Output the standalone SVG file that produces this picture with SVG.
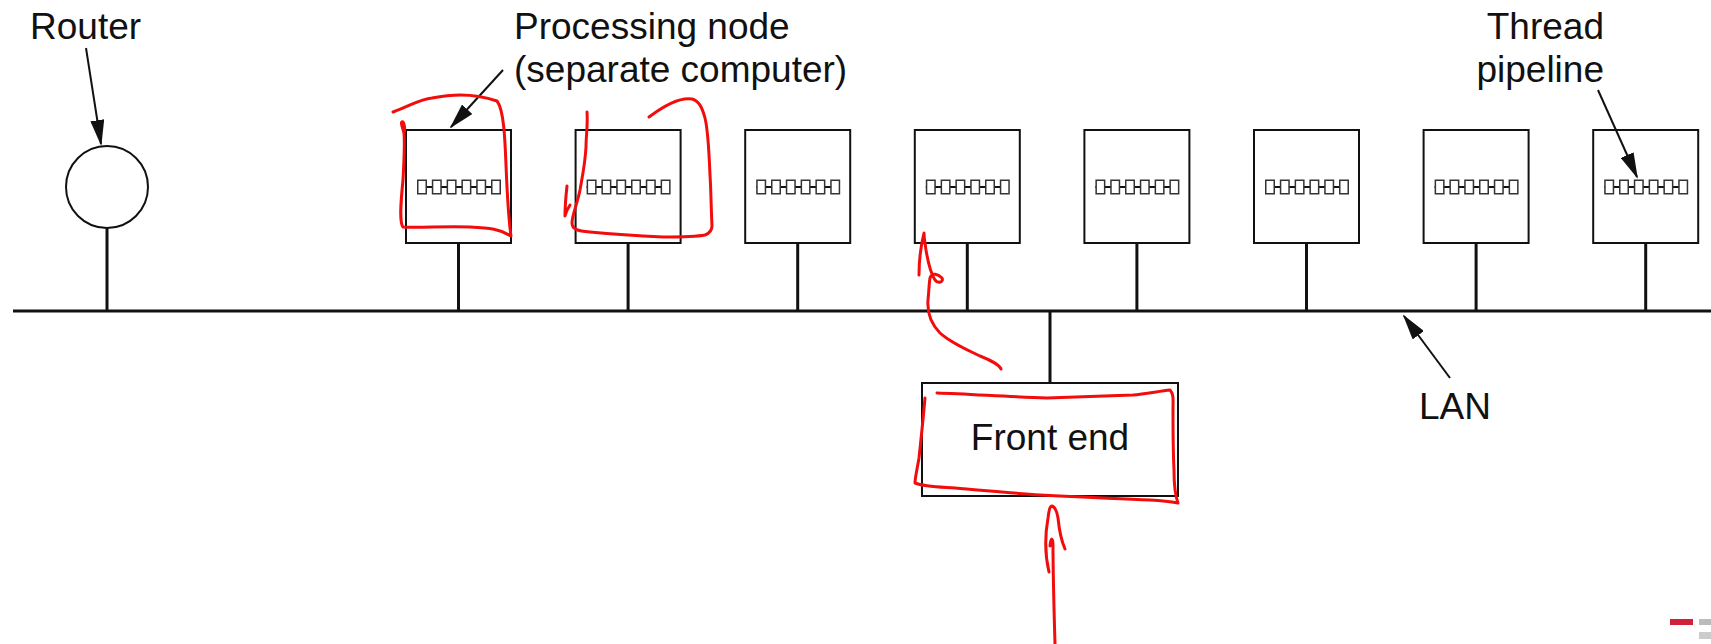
<svg xmlns="http://www.w3.org/2000/svg" xmlns:xlink="http://www.w3.org/1999/xlink" width="1711" height="644" viewBox="0 0 1711 644">
  <style>
    .lbl { font-family: "Liberation Sans", Arial, Helvetica, sans-serif; font-size: 37px; fill: #111; }
    .box { fill: #fff; stroke: #111; stroke-width: 2; }
    .wire { stroke: #111; stroke-width: 3; fill: none; }
    .ptr { stroke: #111; stroke-width: 2; fill: none; marker-end: url(#head); }
    .stage { fill: #fff; stroke: #333; stroke-width: 1.5; }
    .ink { fill: none; stroke: #f20c0c; stroke-width: 3; stroke-linecap: round; stroke-linejoin: round; }
  </style>
  <defs>
    <marker id="head" viewBox="0 0 26 14" refX="24" refY="7" markerWidth="26" markerHeight="14" markerUnits="userSpaceOnUse" orient="auto">
      <path d="M0,0 L26,7 L0,14 z" fill="#111"/>
    </marker>
    <!-- six-stage thread pipeline -->
    <g id="pipe">
      <line x1="0" y1="7.5" x2="83" y2="7.5" stroke="#111" stroke-width="2"/>
      <rect class="stage" x="0.75" y="0.75" width="8.5" height="13.5"/>
      <rect class="stage" x="15.55" y="0.75" width="8.5" height="13.5"/>
      <rect class="stage" x="30.35" y="0.75" width="8.5" height="13.5"/>
      <rect class="stage" x="45.15" y="0.75" width="8.5" height="13.5"/>
      <rect class="stage" x="59.95" y="0.75" width="8.5" height="13.5"/>
      <rect class="stage" x="74.75" y="0.75" width="8.5" height="13.5"/>
    </g>
  </defs>

  <rect width="1711" height="644" fill="#fff"/>

  <g id="router">
    <circle cx="107" cy="187" r="41" fill="#fff" stroke="#111" stroke-width="2"/>
  </g>

  <g id="node1"><rect class="box" x="406" y="130" width="105" height="113"/><use xlink:href="#pipe" x="417" y="179.5"/></g>
  <g id="node2"><rect class="box" x="575.6" y="130" width="105" height="113"/><use xlink:href="#pipe" x="586.6" y="179.5"/></g>
  <g id="node3"><rect class="box" x="745.2" y="130" width="105" height="113"/><use xlink:href="#pipe" x="756.2" y="179.5"/></g>
  <g id="node4"><rect class="box" x="914.8" y="130" width="105" height="113"/><use xlink:href="#pipe" x="925.8" y="179.5"/></g>
  <g id="node5"><rect class="box" x="1084.4" y="130" width="105" height="113"/><use xlink:href="#pipe" x="1095.4" y="179.5"/></g>
  <g id="node6"><rect class="box" x="1254" y="130" width="105" height="113"/><use xlink:href="#pipe" x="1265" y="179.5"/></g>
  <g id="node7"><rect class="box" x="1423.6" y="130" width="105" height="113"/><use xlink:href="#pipe" x="1434.6" y="179.5"/></g>
  <g id="node8"><rect class="box" x="1593.2" y="130" width="105" height="113"/><use xlink:href="#pipe" x="1604.2" y="179.5"/></g>

  <g id="front-end">
    <rect class="box" x="922" y="383" width="256" height="113"/>
    <text class="lbl" x="1050" y="450" text-anchor="middle">Front end</text>
  </g>

  <!-- LAN backbone, drop lines and callout arrows -->
  <g id="connectors">
    <line class="wire" x1="13" y1="311" x2="1711" y2="311"/>
    <line class="wire" x1="107" y1="228" x2="107" y2="311"/>
    <line class="wire" x1="458.5" y1="244" x2="458.5" y2="311"/>
    <line class="wire" x1="628.1" y1="244" x2="628.1" y2="311"/>
    <line class="wire" x1="797.7" y1="244" x2="797.7" y2="311"/>
    <line class="wire" x1="967.3" y1="244" x2="967.3" y2="311"/>
    <line class="wire" x1="1136.9" y1="244" x2="1136.9" y2="311"/>
    <line class="wire" x1="1306.5" y1="244" x2="1306.5" y2="311"/>
    <line class="wire" x1="1476.1" y1="244" x2="1476.1" y2="311"/>
    <line class="wire" x1="1645.7" y1="244" x2="1645.7" y2="311"/>
    <line class="wire" x1="1050" y1="311" x2="1050" y2="382"/>
    <line class="ptr" x1="86" y1="48" x2="101" y2="144"/>
    <line class="ptr" x1="503" y1="70" x2="451" y2="127"/>
    <line class="ptr" x1="1598" y1="90" x2="1637" y2="177"/>
    <line class="ptr" x1="1450" y1="378" x2="1404" y2="316"/>
  </g>

  <!-- labels -->
  <g id="labels">
    <text class="lbl" x="30" y="39">Router</text>
    <text class="lbl" x="514" y="39">Processing node</text>
    <text class="lbl" x="514" y="82">(separate computer)</text>
    <text class="lbl" x="1604" y="39" text-anchor="end">Thread</text>
    <text class="lbl" x="1604" y="82" text-anchor="end">pipeline</text>
    <text class="lbl" x="1419" y="419">LAN</text>
  </g>

  <!-- freehand pen marks -->
  <g id="pen">
    <path class="ink" d="M393,112 C410,106 420,99 432,98 C448,95 470,92 497,101 C504,110 505,140 506,165 C507,190 508,215 511,236 C500,229 490,228 470,227 C445,226 420,228 403,227 C399,222 401,200 403,180 C404,160 405,145 404,133 C402,126 400,121 403,122 C405,124 405,130 404,134"/>
    <path class="ink" d="M587,112 C588,125 586,135 586,147 C585,165 582,178 580,190 C577,205 572,215 572,223 C572,229 577,231 590,232 C610,234 640,236 663,237 C685,237 700,236 705,235 C710,233 712,230 712,226 C711,205 711,190 710,175 C709,150 708,130 705,118 C702,107 699,101 692,99 C680,97 665,105 649,117"/>
    <path class="ink" d="M567,186 C566,195 565,205 565,216 C566,212 568,208 570,205"/>
    <path class="ink" d="M1001,369 C999,364 990,360 980,356 C965,349 950,342 940,333 C930,323 927,313 928,300 C929,290 929,284 930,278 C932,272 938,274 942,278 C944,282 938,284 935,280 C931,274 928,262 926,250 C925,243 924,238 924,233 C921,245 919,262 919,275"/>
    <path class="ink" d="M925,398 C923,420 921,440 919,458 C917,470 915,478 915,483 C925,487 940,487 955,488 C980,490 1010,493 1040,495 C1080,497 1120,499 1150,500 C1165,501 1172,502 1178,503 C1175,495 1174,485 1174,470 C1173,450 1173,430 1173,410 C1173,400 1174,394 1170,390 C1160,391 1145,394 1133,395 C1110,396 1080,397 1047,398 C1010,397 970,394 937,393"/>
    <path class="ink" d="M1055,644 C1054,610 1053,575 1053,545 C1053,538 1051,536 1050,546"/>
    <path class="ink" d="M1049,572 C1045,555 1045,535 1048,518 C1049,510 1050,506 1052,506 C1055,507 1057,512 1058,518 C1059,528 1061,540 1065,549"/>
  </g>

  <!-- corner mark -->
  <g id="corner-mark">
    <rect x="1670" y="619" width="23" height="6" fill="#d0203a"/>
    <rect x="1699" y="619" width="12" height="6" fill="#bbbbbb"/>
    <rect x="1699" y="632" width="12" height="7" fill="#cccccc"/>
  </g>
</svg>
